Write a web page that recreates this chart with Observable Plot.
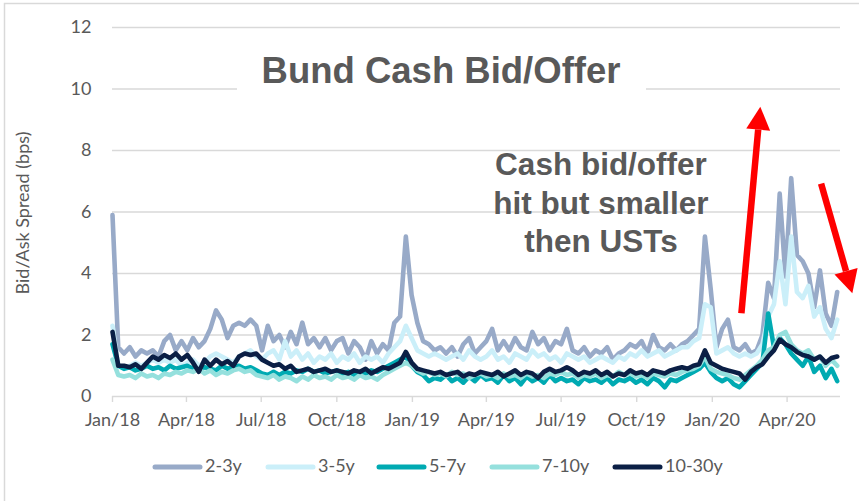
<!DOCTYPE html>
<html><head><meta charset="utf-8">
<script src="https://cdn.jsdelivr.net/npm/d3@7"></script>
<script src="https://cdn.jsdelivr.net/npm/@observablehq/plot@0.6"></script>
<style>
body{margin:0;background:#fff}
#chart{position:relative;width:859px;height:501px}
</style>
</head><body><div id="chart"></div>
<script>
// ---- data (weekly readings, Mondays from 2018-01-01) ----
const seriesNames = ["2-3y","3-5y","5-7y","7-10y","10-30y"];
const seriesColors = ["#98AAC8","#CBEFF9","#00AAB2","#95E0DD","#0B1F45"];
const firstWeek = "2018-01-01";
const lastWeek = "2020-06-02";
const yTicks = [0,2,4,6,8,10,12];
const xTickDates = ["2018-01-01","2018-04-01","2018-07-01","2018-10-01","2019-01-01","2019-04-01","2019-07-01","2019-10-01","2020-01-01","2020-04-01"];
const xTickLabels = ["Jan/18","Apr/18","Jul/18","Oct/18","Jan/19","Apr/19","Jul/19","Oct/19","Jan/20","Apr/20"];

const s2_3 = [5.9,1.6,1.4,1.6,1.3,1.5,1.4,1.5,1.3,1.8,2.0,1.5,1.8,1.5,1.9,1.6,1.8,2.2,2.8,2.5,
1.9,2.3,2.4,2.3,2.5,2.3,1.5,2.3,1.8,2.0,1.6,2.1,1.7,2.4,1.7,1.9,1.6,1.9,1.5,1.8,
1.9,1.4,1.8,1.6,1.2,1.8,1.4,1.7,1.5,2.4,2.6,5.2,3.3,2.4,1.8,1.7,1.5,1.6,1.4,1.6,
1.3,1.7,1.9,1.4,1.6,1.8,2.2,1.5,1.8,1.5,1.9,1.6,1.5,2.1,1.7,1.9,1.5,1.8,1.7,2.2,
1.5,1.4,1.6,1.3,1.5,1.4,1.6,1.2,1.4,1.5,1.7,1.6,1.8,1.4,2.0,1.6,1.5,1.7,1.5,1.7,
1.8,2.0,2.2,5.2,3.5,1.6,2.2,2.5,1.6,1.5,1.7,1.4,1.5,2.0,3.7,3.2,6.6,3.9,7.1,4.6,
4.4,4.0,2.9,4.1,2.7,2.3,3.4];
const s3_5 = [2.3,1.0,0.9,1.0,1.1,1.0,1.1,1.2,1.1,1.2,1.1,1.2,1.0,1.1,1.2,1.0,1.1,1.3,1.4,1.3,
1.2,1.1,1.3,1.4,1.5,1.3,1.2,1.4,1.5,1.2,1.8,1.3,1.5,1.2,1.4,1.1,1.3,1.2,1.4,1.1,
1.3,1.2,1.4,1.1,1.3,1.2,1.3,1.1,1.4,1.6,1.8,2.3,1.9,1.5,1.4,1.3,1.4,1.3,1.2,1.3,
1.4,1.2,1.5,1.3,1.2,1.3,1.5,1.2,1.3,1.1,1.4,1.3,1.2,1.5,1.3,1.4,1.2,1.3,1.1,1.4,
1.3,1.2,1.3,1.1,1.2,1.3,1.2,1.1,1.3,1.2,1.4,1.3,1.5,1.3,1.4,1.5,1.3,1.4,1.5,1.6,
1.6,1.8,1.9,3.0,2.9,1.4,1.5,1.6,1.4,1.3,1.4,1.3,1.4,1.7,2.6,3.0,4.4,3.0,5.2,3.4,
3.2,3.6,2.6,2.9,2.2,1.9,2.5];
const s5_7 = [1.7,1.0,0.9,0.95,0.85,0.9,1.0,0.9,0.95,0.85,1.0,0.9,0.95,1.0,0.9,0.85,0.95,0.9,0.85,1.0,
0.9,0.95,1.0,0.9,0.95,0.85,0.75,0.7,0.8,0.7,0.8,0.75,0.85,0.8,0.9,0.8,0.85,0.75,0.8,0.85,
0.75,0.8,0.7,0.8,0.75,0.85,0.8,0.9,1.0,1.1,1.2,1.3,1.0,0.8,0.7,0.5,0.6,0.55,0.7,0.5,
0.6,0.45,0.65,0.5,0.7,0.55,0.6,0.45,0.7,0.5,0.6,0.4,0.65,0.5,0.6,0.45,0.7,0.5,0.6,0.5,
0.55,0.4,0.6,0.5,0.55,0.45,0.6,0.4,0.55,0.5,0.6,0.45,0.55,0.4,0.6,0.5,0.3,0.55,0.5,0.6,
0.7,0.8,0.9,1.1,0.8,0.6,0.5,0.6,0.4,0.3,0.5,0.7,0.9,1.1,2.7,1.6,1.9,1.7,1.4,1.2,
1.0,1.3,0.8,1.0,0.6,0.9,0.5];
const s7_10 = [1.2,0.7,0.65,0.7,0.6,0.75,0.65,0.7,0.6,0.75,0.7,0.8,0.75,0.85,0.8,0.9,0.75,0.85,0.7,0.8,
0.75,0.85,0.9,0.8,0.85,0.7,0.65,0.6,0.7,0.55,0.65,0.6,0.5,0.65,0.55,0.7,0.6,0.65,0.55,0.7,
0.6,0.65,0.55,0.7,0.6,0.65,0.55,0.7,0.8,0.9,1.0,1.1,1.0,0.85,0.75,0.8,0.7,0.75,0.65,0.8,
0.7,0.75,0.6,0.7,0.75,0.65,0.7,0.6,0.75,0.65,0.7,0.6,0.75,0.65,0.7,0.6,0.75,0.7,0.8,0.7,
0.75,0.6,0.7,0.65,0.75,0.6,0.7,0.65,0.8,0.7,0.75,0.65,0.7,0.6,0.75,0.7,0.65,0.75,0.7,0.8,
0.85,0.9,1.0,1.3,0.9,0.8,0.75,0.7,0.6,0.55,0.7,0.85,1.0,1.2,1.5,1.6,2.0,2.1,1.7,1.5,
1.4,1.5,1.2,1.3,1.0,1.2,1.0];
const s10_30 = [2.1,1.0,1.0,0.95,1.05,0.9,1.1,1.3,1.2,1.35,1.25,1.4,1.2,1.35,1.1,0.8,1.2,1.0,1.2,1.05,
1.15,1.0,1.3,1.4,1.35,1.4,1.2,1.1,1.0,1.05,0.9,1.0,0.8,0.85,0.9,0.8,0.85,0.9,0.8,0.85,
0.8,0.75,0.85,0.8,0.9,0.75,0.85,0.95,0.9,1.0,1.1,1.45,1.1,0.9,0.85,0.8,0.75,0.8,0.7,0.75,
0.8,0.65,0.75,0.7,0.8,0.75,0.7,0.8,0.65,0.75,0.85,0.7,0.8,0.75,0.6,0.8,0.9,0.8,0.85,0.95,
0.85,0.7,0.8,0.75,0.85,0.7,0.8,0.65,0.75,0.7,0.85,0.75,0.8,0.7,0.85,0.8,0.75,0.85,0.9,0.95,
0.9,1.0,1.05,1.5,1.1,1.0,0.9,0.85,0.8,0.75,0.55,0.8,0.95,1.05,1.3,1.5,1.85,1.7,1.6,1.45,
1.35,1.3,1.2,1.3,1.1,1.25,1.3];

// annotation text & arrows (data units)
const chartTitle = "Bund Cash Bid/Offer";
const noteLines = ["Cash bid/offer","hit but smaller","then USTs"];
const yAxisTitle = "Bid/Ask Spread (bps)";
const arrows = [
  {from:["2020-02-06",2.69], to:["2020-02-29",9.41]},
  {from:["2020-05-13",6.91], to:["2020-06-20",3.34]}
];

// ---- build table ----
const weeks = d3.utcMonday.range(new Date(firstWeek), new Date(lastWeek));
const allSeries = [s2_3, s3_5, s5_7, s7_10, s10_30];
const rows = [];
allSeries.forEach((vals, si) => {
  vals.forEach((v, i) => { if (weeks[i]) rows.push({date: weeks[i], value: v, series: seriesNames[si]}); });
});
const tickDates = xTickDates.map(d => new Date(d));
const labelByTime = new Map(tickDates.map((d,i)=>[+d, xTickLabels[i]]));

const textColor = "#595959";
const gridColor = "#D9D9D9";

const plot = Plot.plot({
  width: 859, height: 501,
  marginLeft: 112, marginRight: 19, marginTop: 27, marginBottom: 105,
  x: {type: "utc", domain: [new Date("2018-01-01"), new Date("2020-06-05")]},
  y: {domain: [0, 12]},
  color: {domain: seriesNames, range: seriesColors},
  style: {fontFamily: "Lato", fontSize: "18px", color: textColor, background: "white", overflow: "visible"},
  marks: [
    Plot.gridY(yTicks.filter(d => d > 0), {stroke: gridColor, strokeOpacity: 1, strokeWidth: 1.4}),
    Plot.ruleY([0], {stroke: gridColor, strokeWidth: 1.4}),
    Plot.axisX({ticks: tickDates, tickFormat: d => labelByTime.get(+d), tickSize: 6, tickPadding: 11,
      stroke: gridColor, strokeWidth: 1.4, fill: textColor, label: null}),
    Plot.axisY({ticks: yTicks, tickSize: 0, tickPadding: 21, fill: textColor, label: null}),
    Plot.line(rows, {x: "date", y: "value", z: "series", stroke: "series", strokeWidth: 4.6,
      strokeLinejoin: "round", strokeLinecap: "round", curve: "linear"})
  ]
});
document.getElementById("chart").appendChild(plot);

// ---- overlays drawn with the plot's scales ----
const svg = d3.select(plot);
const xs = plot.scale("x"), ys = plot.scale("y");
const X = d => xs.apply(new Date(d)), Y = v => ys.apply(v);

// outer border
svg.insert("rect", ":first-child").attr("x", 4.5).attr("y", 3.5).attr("width", 900).attr("height", 600)
  .attr("fill", "none").attr("stroke", gridColor).attr("stroke-width", 1.5);

// title with white background box
svg.append("rect").attr("x", 237).attr("y", 52).attr("width", 409).attr("height", 48).attr("fill", "white");
svg.append("text").attr("x", 441).attr("y", 83).attr("text-anchor", "middle")
  .attr("font-family", "Liberation Sans, Arial, sans-serif").attr("font-weight", "bold")
  .attr("font-size", 36.5).attr("fill", textColor).text(chartTitle);

// note
noteLines.forEach((t, i) => {
  svg.append("text").attr("x", 601).attr("y", 175 + i * 38.5).attr("text-anchor", "middle")
    .attr("font-family", "Liberation Sans, Arial, sans-serif").attr("font-weight", "bold")
    .attr("font-size", 31.5).attr("fill", textColor).text(t);
});

// arrows
arrows.forEach(a => {
  const x1 = X(a.from[0]), y1 = Y(a.from[1]), x2 = X(a.to[0]), y2 = Y(a.to[1]);
  const ang = Math.atan2(y2 - y1, x2 - x1);
  const hl = 23, hw = 12;
  const bx = x2 - hl * Math.cos(ang), by = y2 - hl * Math.sin(ang);
  svg.append("line").attr("x1", x1).attr("y1", y1).attr("x2", bx).attr("y2", by)
    .attr("stroke", "#FF0000").attr("stroke-width", 6.5);
  const px = -Math.sin(ang), py = Math.cos(ang);
  svg.append("polygon").attr("points", [[x2, y2], [bx + px * hw, by + py * hw], [bx - px * hw, by - py * hw]].map(p => p.join(",")).join(" "))
    .attr("fill", "#FF0000");
});

// y axis title
svg.append("text").attr("transform", "translate(24,213) rotate(-90)").attr("text-anchor", "middle")
  .attr("dominant-baseline", "middle").attr("font-family", "Lato").attr("font-size", 18)
  .attr("fill", textColor).text(yAxisTitle);

// legend
const legendX = [153, 266, 377, 490, 613];
seriesNames.forEach((n, i) => {
  svg.append("line").attr("x1", legendX[i] + 2).attr("x2", legendX[i] + 47).attr("y1", 467).attr("y2", 467)
    .attr("stroke", seriesColors[i]).attr("stroke-width", 5).attr("stroke-linecap", "round");
  svg.append("text").attr("x", legendX[i] + 52).attr("y", 467).attr("text-anchor", "start")
    .attr("dominant-baseline", "middle")
    .attr("font-family", "Lato").attr("font-size", 18).attr("fill", textColor).text(n);
});
</script>
</body></html>
